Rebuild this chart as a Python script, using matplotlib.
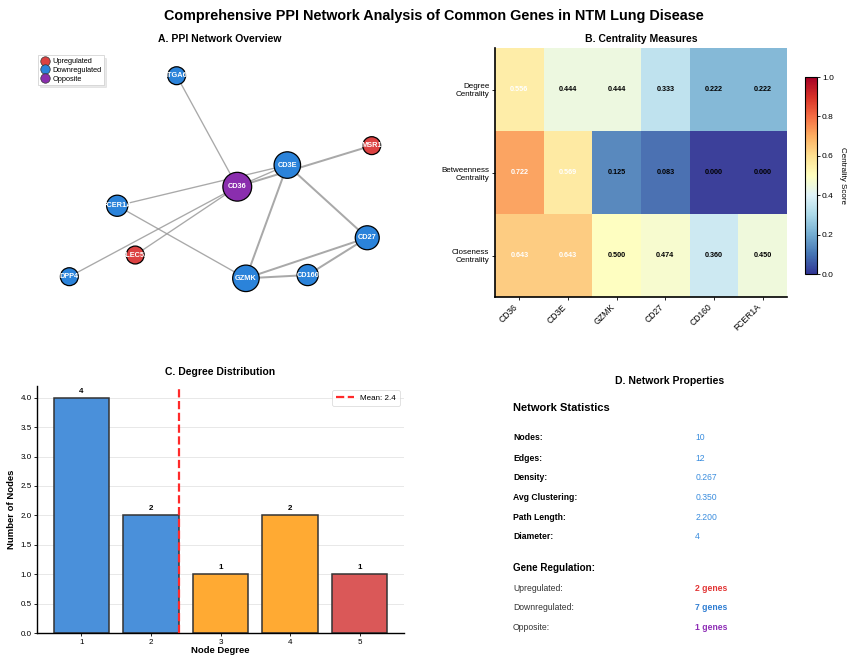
import matplotlib
matplotlib.use("Agg")
import matplotlib.pyplot as plt
from matplotlib.lines import Line2D
import numpy as np

plt.rcParams['font.family'] = ['Liberation Sans', 'DejaVu Sans']

# ---- network data ----
genes = ["ITGA6", "MSR1", "CD3E", "CD36", "FCER1A", "CLEC5A", "DPP4", "GZMK", "CD160", "CD27"]
regulation = ["down", "up", "down", "opposite", "down", "up", "down", "down", "down", "down"]
pos_x = [-0.241, 0.843, 0.374, 0.096, -0.571, -0.471, -0.837, 0.144, 0.487, 0.818]
pos_y = [0.780, 0.225, 0.071, -0.101, -0.252, -0.643, -0.815, -0.828, -0.802, -0.506]
edges = [("ITGA6", "CD36"), ("CD36", "CD3E"), ("CD36", "MSR1"), ("FCER1A", "CD3E"),
         ("CD36", "DPP4"), ("CD36", "CLEC5A"), ("FCER1A", "GZMK"), ("CD3E", "GZMK"),
         ("CD3E", "CD27"), ("GZMK", "CD27"), ("GZMK", "CD160"), ("CD160", "CD27")]
edge_weights = [0.6, 0.6, 0.9, 0.6, 0.6, 0.6, 0.6, 0.9, 0.9, 0.9, 0.9, 0.9]

# ---- centrality data ----
cent_genes = ["CD36", "CD3E", "GZMK", "CD27", "CD160", "FCER1A"]
cent_measures = ["Degree\nCentrality", "Betweenness\nCentrality", "Closeness\nCentrality"]
degree_cent = [0.556, 0.444, 0.444, 0.333, 0.222, 0.222]
between_cent = [0.722, 0.569, 0.125, 0.083, 0.000, 0.000]
close_cent = [0.643, 0.643, 0.500, 0.474, 0.360, 0.450]

# ---- degree distribution ----
deg_values = [1, 2, 3, 4, 5]
deg_counts = [4, 2, 1, 2, 1]
mean_degree = 2.4

# ---- network properties ----
stat_labels = ["Nodes:", "Edges:", "Density:", "Avg Clustering:", "Path Length:", "Diameter:"]
stat_values = ["10", "12", "0.267", "0.350", "2.200", "4"]
reg_labels = ["Upregulated:", "Downregulated:", "Opposite:"]
reg_counts = [2, 7, 1]

reg_colors = {"up": "#DC4242", "down": "#2B83DA", "opposite": "#8A2EAE"}

W, H = 850, 655
fig = plt.figure(figsize=(W / 100, H / 100), dpi=100)


def px_axes(x0, y0, x1, y1):
    return fig.add_axes([x0 / W, 1 - y1 / H, (x1 - x0) / W, (y1 - y0) / H])


fig.text(434 / W, 1 - 16 / H,
         "Comprehensive PPI Network Analysis of Common Genes in NTM Lung Disease",
         ha="center", va="center", fontsize=10.4, fontweight="bold")

# ---------------- A. network ----------------
axA = px_axes(40, 48, 400, 300)
axA.set_xlim(-1, 1)
axA.set_ylim(-1, 1)
axA.axis("off")
axA.set_title("A. PPI Network Overview", fontsize=7.5, fontweight="bold", pad=4)
idx = {g: i for i, g in enumerate(genes)}
degree = {g: 0 for g in genes}
for (a, b), w in zip(edges, edge_weights):
    degree[a] += 1
    degree[b] += 1
    axA.plot([pos_x[idx[a]], pos_x[idx[b]]], [pos_y[idx[a]], pos_y[idx[b]]],
             color="#9a9a9a", lw=w * 1.6, alpha=0.85, zorder=1, solid_capstyle="round")
sizes = [100 + 66 * degree[g] for g in genes]
axA.scatter(pos_x, pos_y, s=sizes, c=[reg_colors[r] for r in regulation],
            edgecolors="black", linewidths=0.9, zorder=2)
for g, x, y in zip(genes, pos_x, pos_y):
    axA.text(x, y, g, ha="center", va="center", fontsize=5.3, fontweight="bold",
             color="white", zorder=3)
handles = [Line2D([], [], marker="o", ls="", markersize=6.8, markerfacecolor=reg_colors[k],
                  markeredgecolor="#333333", markeredgewidth=0.5, label=l)
           for k, l in [("up", "Upregulated"), ("down", "Downregulated"), ("opposite", "Opposite")]]
leg = axA.legend(handles=handles, loc="upper left", bbox_to_anchor=(-0.015, 0.985), fontsize=5.3,
                 frameon=True, fancybox=False, shadow={"alpha": 0.12, "ox": 1.5, "oy": -1.5},
                 borderpad=0.35, labelspacing=0.22, handletextpad=0.6, handlelength=1.0)
leg.get_frame().set_linewidth(0.5)
leg.get_frame().set_edgecolor("#cccccc")

# ---------------- B. heatmap ----------------
axB = px_axes(495, 48, 787, 297)
mat = np.array([degree_cent, between_cent, close_cent])
im = axB.imshow(mat, cmap="RdYlBu_r", vmin=0, vmax=1, aspect="auto", alpha=0.95)
axB.set_xticks(range(len(cent_genes)))
axB.set_xticklabels(cent_genes, rotation=45, ha="right", fontsize=6.2)
axB.set_yticks(range(len(cent_measures)))
axB.set_yticklabels(cent_measures, fontsize=5.8)
axB.tick_params(length=2, width=0.6, pad=2)
for s in ["top", "right"]:
    axB.spines[s].set_visible(False)
for s in ["left", "bottom"]:
    axB.spines[s].set_linewidth(1.2)
for i in range(mat.shape[0]):
    for j in range(mat.shape[1]):
        v = mat[i, j]
        axB.text(j, i, f"{v:.3f}", ha="center", va="center", fontsize=5.2, fontweight="bold",
                 color="white" if v > 0.5 else "black")
axB.set_title("B. Centrality Measures", fontsize=7.5, fontweight="bold", pad=4)
cax = px_axes(805, 77, 817, 274)
sm = matplotlib.cm.ScalarMappable(cmap="RdYlBu_r", norm=matplotlib.colors.Normalize(0, 1))
cb = fig.colorbar(sm, cax=cax)
cb.set_ticks([0, 0.2, 0.4, 0.6, 0.8, 1.0])
cb.ax.tick_params(labelsize=6, length=2, width=0.6, pad=1.5)
cb.outline.set_linewidth(0.8)
cb.set_label("Centrality Score", rotation=270, fontsize=5.8, labelpad=9)

# ---------------- C. degree distribution ----------------
axC = px_axes(37, 386, 404, 633)
bar_colors = ["#4A90DA", "#4A90DA", "#FFAA33", "#FFAA33", "#DA5858"]
bars = axC.bar(deg_values, deg_counts, width=0.8, color=bar_colors, edgecolor="#333333",
               linewidth=1.1, zorder=2)
for b, c in zip(bars, deg_counts):
    axC.text(b.get_x() + b.get_width() / 2, c + 0.05, str(c), ha="center", va="bottom",
             fontsize=5.8, fontweight="bold")
axC.axvline(mean_degree, color="#FF2A2A", ls="--", lw=1.6, zorder=3, label=f"Mean: {mean_degree}")
axC.set_ylim(0, 4.2)
axC.set_xticks(deg_values)
axC.tick_params(labelsize=5.8, length=2, width=0.6, pad=2)
axC.yaxis.grid(True, color="#e8e8e8", lw=0.7, zorder=0)
axC.set_axisbelow(True)
for s in ["top", "right"]:
    axC.spines[s].set_visible(False)
for s in ["left", "bottom"]:
    axC.spines[s].set_linewidth(1.0)
axC.set_xlabel("Node Degree", fontsize=6.8, fontweight="bold", labelpad=0)
axC.set_ylabel("Number of Nodes", fontsize=6.8, fontweight="bold", labelpad=3)
axC.set_title("C. Degree Distribution", fontsize=7.5, fontweight="bold", pad=8)
lg = axC.legend(loc="upper right", fontsize=5.8, frameon=True, fancybox=True,
                handlelength=2.2, borderpad=0.5)
lg.get_frame().set_linewidth(0.5)

# ---------------- D. network properties ----------------
axD = px_axes(500, 388, 840, 640)
axD.axis("off")
axD.set_xlim(0, 1)
axD.set_ylim(0, 1)
axD.set_title("D. Network Properties", fontsize=7.5, fontweight="bold", pad=3)
axD.text(0.038, 0.921, "Network Statistics", fontsize=8, fontweight="bold", va="center")
stat_y = [0.802, 0.722, 0.643, 0.567, 0.488, 0.409]
for lab, val, y in zip(stat_labels, stat_values, stat_y):
    axD.text(0.038, y, lab, fontsize=6.2, fontweight="bold", va="center")
    axD.text(0.574, y, val, fontsize=6.2, color="#3A8DDE", va="center")
axD.text(0.038, 0.286, "Gene Regulation:", fontsize=7.1, fontweight="bold", va="center")
reg_y = [0.206, 0.127, 0.048]
reg_val_colors = ["#E23535", "#2E7DD2", "#8E2DB5"]
for lab, n, y, col in zip(reg_labels, reg_counts, reg_y, reg_val_colors):
    axD.text(0.038, y, lab, fontsize=6.2, color="#333333", va="center")
    axD.text(0.574, y, f"{n} genes", fontsize=6.2, fontweight="bold", color=col, va="center")

fig.savefig("out.png", dpi=100)
